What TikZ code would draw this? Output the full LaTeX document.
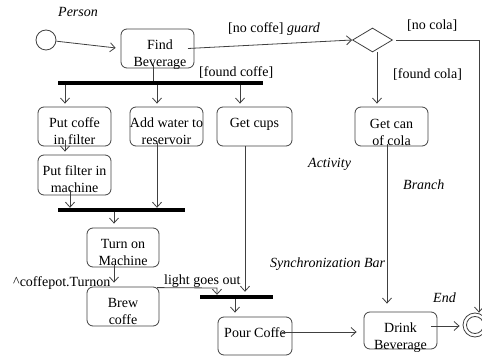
\documentclass[tikz,border=0pt]{standalone}
\usepackage{fontspec}
\setmainfont{Liberation Serif}
\usetikzlibrary{arrows.meta,shapes.geometric,calc}
\newcommand\twol[2]{\begin{tabular}[t]{@{}c@{}}#1\\#2\end{tabular}}
\begin{document}
\begin{tikzpicture}[x=1pt,y=-1pt,
 every node/.style={font=\fontsize{14}{17}\selectfont},
 act/.style={draw=black!75, rounded corners=6pt, minimum width=73pt, minimum height=39pt, inner sep=0pt, line width=0.8pt},
 lbl/.style={inner sep=0pt, anchor=base},
 arr/.style={draw=black!75, line width=0.8pt, -{Straight Barb[length=5pt,width=9pt]}},
 ln/.style={draw=black!75, line width=0.8pt},
 syncbar/.style={fill=black, inner sep=0pt, minimum height=4pt},
 note/.style={font=\fontsize{14}{17}\selectfont\itshape, inner sep=0pt},
 plain/.style={inner sep=0pt},
]
\useasboundingbox (0,0) rectangle (482,358);

% activity boxes
\node[act] (find) at (157.5,48.5) {};
\node[lbl] (findt) at (160,49.5) {\twol{Find}{Beverage}};
\node[act] (putcoffe) at (74.5,126.5) {};
\node[lbl] (putcoffet) at (74.5,127.5) {\twol{Put coffe}{in filter}};
\node[act] (addwater) at (166.5,126.5) {};
\node[lbl] (addwatert) at (166.5,127.5) {\twol{Add water to}{reservoir}};
\node[act, minimum width=75pt] (getcups) at (254.5,126.5) {};
\node[lbl] (getcupst) at (254.5,127.5) {Get cups};
\node[act] (getcola) at (391.5,126.5) {};
\node[lbl] (getcolat) at (391.5,128.5) {\twol{Get can}{of cola}};
\node[act, minimum height=40pt] (putfilter) at (74.5,175) {};
\node[lbl] (putfiltert) at (74.5,175.5) {\twol{Put filter in}{machine}};
\node[act, minimum width=72pt] (turnon) at (123,247.5) {};
\node[lbl] (turnont) at (123,248.5) {\twol{Turn on}{Machine}};
\node[act, minimum width=72pt] (brew) at (123,306.5) {};
\node[lbl] (brewt) at (123,307.5) {\twol{Brew}{coffe}};
\node[act, minimum width=74pt, minimum height=38pt] (pour) at (255,336) {};
\node[lbl] (pourt) at (255,337.5) {Pour Coffe};
\node[act, minimum height=37pt] (drink) at (400.5,330.5) {};
\node[lbl] (drinkt) at (400.5,332.5) {\twol{Drink}{Beverage}};

% start, decision, end
\node[circle, draw=black!75, line width=0.8pt, minimum size=20pt, inner sep=0pt] (start) at (46,40) {};
\node[diamond, draw=black!75, line width=0.8pt, minimum width=40pt, minimum height=24pt, inner sep=0pt] (dec) at (372.5,40) {};
\node[circle, draw=black!75, line width=0.8pt, minimum size=24pt, inner sep=0pt] (endo) at (475,325) {};
\node[circle, draw=black!75, line width=0.8pt, minimum size=17pt, inner sep=0pt] (endi) at (475,325) {};

% synchronization bars
\node[syncbar, minimum width=205pt] (bar1) at (160.5,83) {};
\node[syncbar, minimum width=127pt] (bar2) at (121.5,210) {};
\node[syncbar, minimum width=73pt] (bar3) at (236.5,297) {};

% connectors
\draw[arr, shorten >=5pt] (start) -- (find.west);
\draw[arr] (find.center -| 188,0) -- (dec.west);
\coordinate (nocola) at (479,40);
\draw[arr] (dec.east -| 396,0) -- (nocola) -- (endo.north -| 479,0);
\draw[arr, shorten >=3pt] (dec.south -| 377,0) -- (getcola.north -| 377,0);
\draw[ln] (find.south -| 153,0) ++(0,-3) -- (bar1.north -| 153,0);
\draw[arr, shorten >=3pt] (bar1.south -| 65,0) -- (putcoffe.north -| 65,0);
\draw[arr, shorten >=3pt] (bar1.south -| 157,0) -- (addwater.north -| 157,0);
\draw[arr, shorten >=3pt] (bar1.south -| 240,0) -- (getcups.north -| 240,0);
\draw[arr, shorten >=3pt] (putcoffe.south -| 65,0) ++(0,-6) -- (putfilter.north -| 65,0);
\draw[arr] (putfilter.south -| 70,0) ++(0,-5) -- (bar2.north -| 70,0);
\draw[arr] (addwater.south -| 157,0) ++(0,-3) -- (bar2.north -| 157,0);
\draw[arr, shorten >=4pt] (bar2.south -| 114,0) -- (turnon.north -| 114,0);
\draw[arr, shorten >=4pt] (turnon.south -| 114,0) ++(0,-2) -- (brew.north -| 114,0);
\coordinate (light) at (217,288);
\draw[arr] (brew.north -| 157,0) ++(0,1) -- (light) -- (bar3.north -| 217,0);
\draw[arr, shorten >=3pt] (getcups.south -| 245,0) -- (bar3.north -| 245,0);
\draw[arr, shorten >=4pt] (bar3.south -| 235,0) -- (pour.north -| 235,0);
\draw[arr, shorten >=7pt] (pour.east |- 0,332) ++(-10,0) -- (drink.west |- 0,332);
\draw[arr, shorten >=8pt] (getcola.south -| 387,0) ++(0,-2) -- (drink.north -| 387,0);
\draw[arr, shorten >=3pt] (drink.east |- 0,326) ++(-6,0) -- (endo.west |- 0,326);

% guard / event labels
\node[plain, anchor=base west] (lnocoffe) at (228,33) {[no coffe] \textit{guard}};
\node[plain, anchor=base west] (lnocola) at (407,30) {[no cola]};
\node[plain, anchor=base west] (lfoundcola) at (393,79) {[found cola]};
\node[plain, anchor=base west] (lfoundcoffe) at (199,77) {[found coffe]};
\node[plain, anchor=base west] (lturnon) at (13,286) {\textasciicircum coffepot.Turnon};
\node[plain, anchor=base west] (llight) at (164,284) {light goes out};

% notes
\node[note, anchor=base west] (nperson) at (58,17) {Person};
\node[note, anchor=base west] (nactivity) at (308,168) {Activity};
\node[note, anchor=base west] (nbranch) at (403,190) {Branch};
\node[note, anchor=base west] (nsync) at (270,267) {Synchronization Bar};
\node[note, anchor=base west] (nend) at (433,302) {End};
\end{tikzpicture}
\end{document}
